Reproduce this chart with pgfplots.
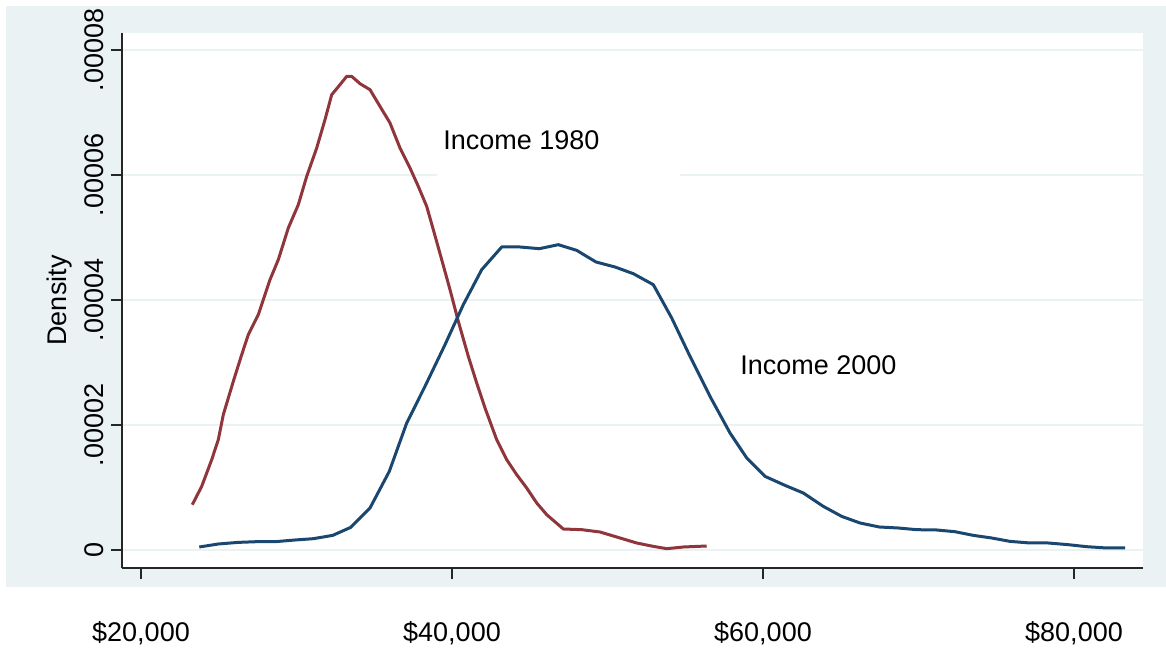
\documentclass[border=0pt]{standalone}
\usepackage{pgfplots}
\pgfplotsset{compat=1.18}
\usepackage{fontspec}
\setmainfont{Liberation Sans}
\definecolor{bgc}{RGB}{234,242,243}
\definecolor{navyc}{RGB}{26,71,111}
\definecolor{maroonc}{RGB}{144,53,59}
\begin{document}
\begin{tikzpicture}
\path[use as bounding box, fill=white] (0,0) rectangle (583bp,324bp);
\fill[bgc] (3bp,30.5bp) rectangle (583bp,321bp);
\begin{axis}[
  at={(61bp,40bp)}, anchor=south west,
  scale only axis, width=510.5bp, height=267.5bp,
  xmin=18778, xmax=84437,
  ymin=-0.00000288, ymax=0.00008272,
  axis background/.style={fill=white},
  axis x line*=bottom, axis y line*=left,
  axis line style={-, black!85, line width=0.6bp},
  tick align=outside,
  major tick length=5.5bp,
  tick style={black!85, line width=0.6bp},
  xtick={20000,40000,60000,80000},
  xticklabels={{\$20,000},{\$40,000},{\$60,000},{\$80,000}},
  ytick={0,0.00002,0.00004,0.00006,0.00008},
  yticklabels={0,.00002,.00004,.00006,.00008},
  scaled x ticks=false, scaled y ticks=false,
  ymajorgrids=true,
  major grid style={bgc, line width=1.2bp},
  /pgf/number format/assume math mode=true,
  tick label style={font=\fontsize{13.5bp}{16bp}\selectfont},
  xticklabel style={anchor=base},
  xticklabel shift=31bp,
  yticklabel style={rotate=90, anchor=base},
  yticklabel shift=4bp,
  ylabel={Density},
  ylabel style={font=\fontsize{13.5bp}{16bp}\selectfont, at={(axis description cs:-0.0539,0.5)}, anchor=base},
]
\fill[white] (axis cs:39036,0.0000589) rectangle (axis cs:54663,0.00007205);
\addplot[maroonc, line width=1.5bp, line join=round] table {
23299 7.25e-6
23904 10.18e-6
24547 14.45e-6
24971 17.65e-6
25293 21.65e-6
25936 26.98e-6
26476 31.25e-6
26900 34.45e-6
27544 37.65e-6
28296 43.25e-6
28830 46.45e-6
29473 51.52e-6
30116 55.25e-6
30656 59.78e-6
31299 64.32e-6
31833 68.85e-6
32264 72.85e-6
32798 74.45e-6
33228 75.78e-6
33550 75.78e-6
34084 74.61e-6
34727 73.65e-6
35370 70.98e-6
36013 68.32e-6
36656 64.32e-6
37299 61.12e-6
37833 58.18e-6
38373 54.98e-6
38798 51.25e-6
39338 46.45e-6
39872 41.65e-6
40406 36.58e-6
41049 30.98e-6
41589 26.72e-6
42123 22.72e-6
42875 17.65e-6
43518 14.45e-6
44161 12.05e-6
44804 9.92e-6
45448 7.52e-6
46091 5.65e-6
47158 3.36e-6
48341 3.25e-6
49518 2.88e-6
50592 2.08e-6
51878 1.12e-6
52946 0.58e-6
53807 0.21e-6
54875 0.48e-6
56380 0.64e-6
};
\addplot[navyc, line width=1.5bp, line join=round] table {
23749 0.48e-6
24971 0.96e-6
26257 1.22e-6
27441 1.33e-6
28618 1.33e-6
29904 1.6e-6
31081 1.81e-6
32328 2.34e-6
33486 3.62e-6
34727 6.72e-6
35968 12.58e-6
37087 20.32e-6
38264 26.18e-6
39550 32.85e-6
40727 39.25e-6
41910 44.85e-6
43197 48.48e-6
44373 48.48e-6
45615 48.21e-6
46837 48.85e-6
48020 47.94e-6
49261 46.08e-6
50483 45.28e-6
51660 44.21e-6
52946 42.45e-6
54129 37.12e-6
55306 30.98e-6
56592 24.58e-6
57879 18.72e-6
58953 14.72e-6
60129 11.78e-6
61416 10.34e-6
62592 9.12e-6
63879 6.98e-6
65062 5.38e-6
66239 4.32e-6
67480 3.68e-6
68702 3.52e-6
69885 3.25e-6
71171 3.2e-6
72348 2.93e-6
73525 2.34e-6
74708 1.92e-6
75885 1.38e-6
77172 1.12e-6
78348 1.12e-6
79635 0.85e-6
80818 0.53e-6
82104 0.32e-6
83281 0.32e-6
};
\node[anchor=west, inner sep=0pt, font=\fontsize{13.5bp}{16bp}\selectfont] at (axis cs:39421,0.0000656) {Income 1980};
\node[anchor=west, inner sep=0pt, font=\fontsize{13.5bp}{16bp}\selectfont] at (axis cs:58521,0.0000296) {Income 2000};
\end{axis}
\end{tikzpicture}
\end{document}
